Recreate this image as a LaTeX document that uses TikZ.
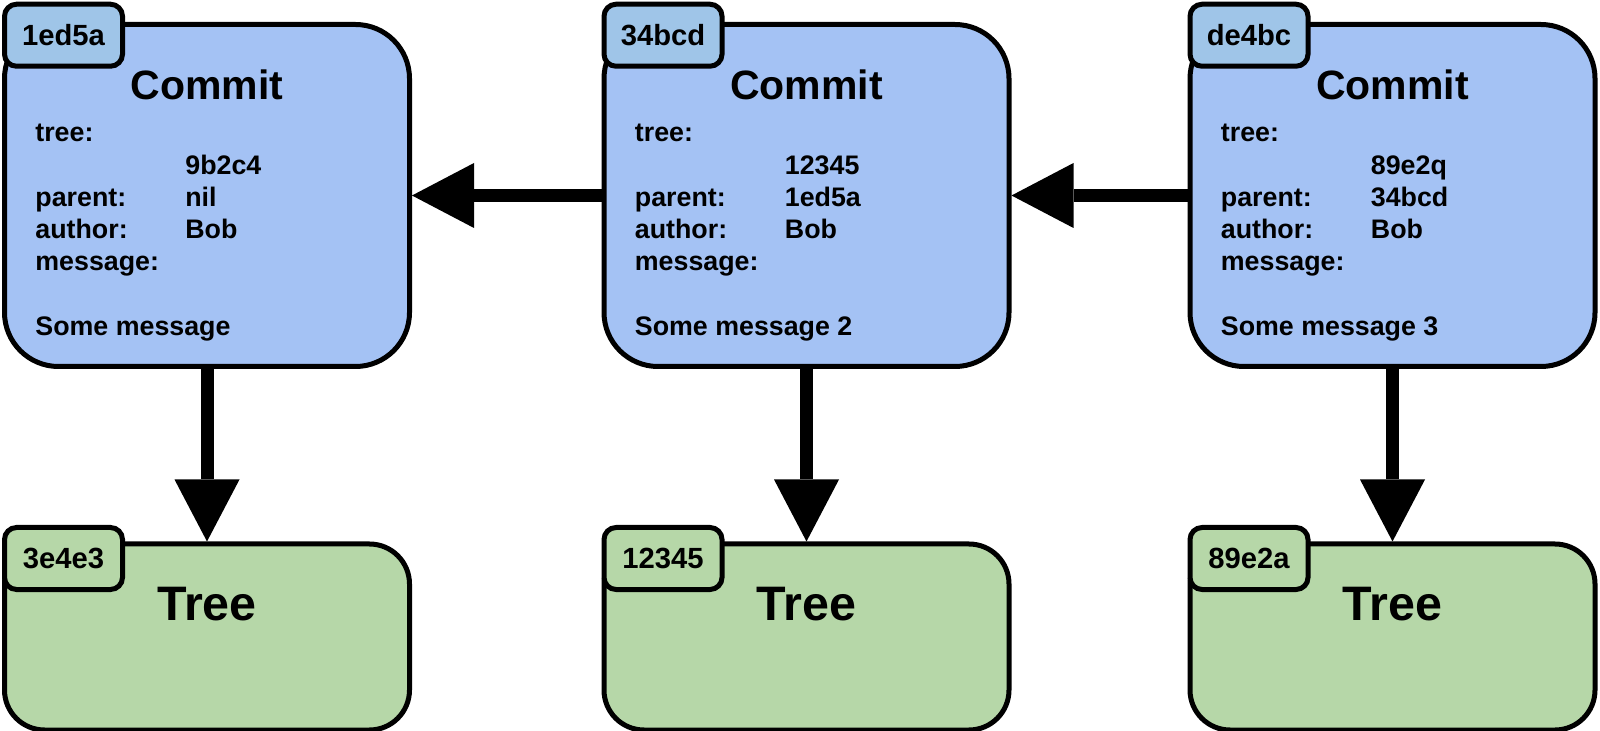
\documentclass[tikz,border=0pt]{standalone}
\usepackage{fontspec}
\setmainfont{Liberation Sans}
\usepackage{xcolor}
\usepackage{tikz}
\usetikzlibrary{arrows.meta,positioning}
\definecolor{CommitBlue}{HTML}{A4C2F4}
\definecolor{TagBlue}{HTML}{9FC5E8}
\definecolor{TreeGreen}{HTML}{B6D7A8}

\begin{document}
\begin{tikzpicture}[x=0.5pt,y=-0.5pt,
    box/.style={draw=black,line width=2.5pt,rectangle,minimum width=202.5pt,inner sep=0pt},
    commit/.style={box,fill=CommitBlue,minimum height=171pt,rounded corners=27pt},
    tree/.style={box,fill=TreeGreen,minimum height=93pt,rounded corners=20pt},
    tag/.style={draw=black,line width=2.5pt,rounded corners=6pt,minimum width=59pt,minimum height=31pt,inner sep=0pt,font=\fontsize{14.6}{16}\selectfont\bfseries},
    title/.style={anchor=base,inner sep=0pt,font=\fontsize{20.5}{24}\selectfont\bfseries},
    treetitle/.style={anchor=base,inner sep=0pt,font=\fontsize{24.2}{28}\selectfont\bfseries},
    fields/.style={anchor=base west,inner sep=0pt,font=\fontsize{13.4}{16.1}\selectfont\bfseries},
    link/.style={line width=6.5pt,-{Triangle[length=31pt,width=32.5pt,line width=0pt]}}]

    \useasboundingbox (0,0) rectangle (1600,731);

    \newcommand{\commitfields}[4]{\begin{tabular}[t]{@{}p{75pt}@{}l@{}}
        tree: & \\ & #1 \\ parent: & #2 \\ author: & #3 \\ message: & \\ & \\
        \multicolumn{2}{@{}l@{}}{#4}\end{tabular}}

    \node[commit] (c1) at (207,195.5) {};
    \node[commit] (c2) at (806.5,195.5) {};
    \node[commit] (c3) at (1392.5,195.5) {};

    \node[tag,fill=TagBlue] (c1tag) at (63.5,35.25) {1ed5a};
    \node[tag,fill=TagBlue] (c2tag) at (663,35.25) {34bcd};
    \node[tag,fill=TagBlue] (c3tag) at (1249,35.25) {de4bc};

    \node[title] (c1title) at (207,100) {Commit};
    \node[title] (c2title) at (806.5,100) {Commit};
    \node[title] (c3title) at (1392.5,100) {Commit};

    \node[fields] (c1fields) at (35,142) {\commitfields{9b2c4}{nil}{Bob}{Some message}};
    \node[fields] (c2fields) at (634.5,142) {\commitfields{12345}{1ed5a}{Bob}{Some message 2}};
    \node[fields] (c3fields) at (1220.5,142) {\commitfields{89e2q}{34bcd}{Bob}{Some message 3}};

    \node[tree] (t1) at (207,637) {};
    \node[tree] (t2) at (806.5,637) {};
    \node[tree] (t3) at (1392.5,637) {};

    \node[tag,fill=TreeGreen] (t1tag) at (63.5,558.5) {3e4e3};
    \node[tag,fill=TreeGreen] (t2tag) at (663,558.5) {12345};
    \node[tag,fill=TreeGreen] (t3tag) at (1249,558.5) {89e2a};

    \node[treetitle] (t1title) at (207,620) {Tree};
    \node[treetitle] (t2title) at (806.5,620) {Tree};
    \node[treetitle] (t3title) at (1392.5,620) {Tree};

    \draw[link] (c2.west) -- (c1.east);
    \draw[link] (c3.west) -- (c2.east);
    \draw[link] (c1.south) -- (t1.north);
    \draw[link] (c2.south) -- (t2.north);
    \draw[link] (c3.south) -- (t3.north);
\end{tikzpicture}
\end{document}
